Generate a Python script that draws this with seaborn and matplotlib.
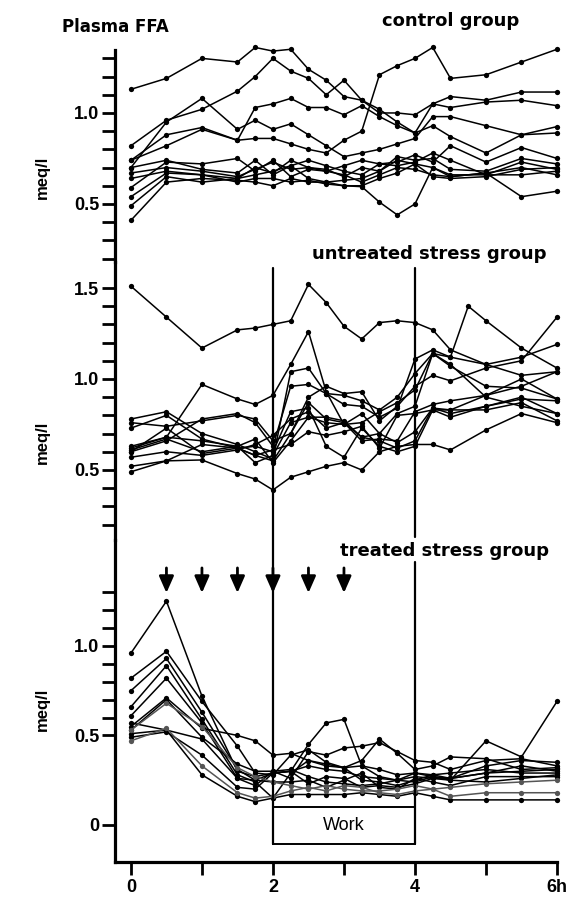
import numpy as np
import pandas as pd
import matplotlib
matplotlib.use("Agg")
import matplotlib.pyplot as plt
import seaborn as sns
from matplotlib.patches import Rectangle

# ---------------- data ----------------
times = [0, 0.5, 1, 1.5, 1.75, 2, 2.25, 2.5, 2.75, 3, 3.25, 3.5, 3.75, 4, 4.25, 4.5, 5, 5.5, 6]

control = [
    [1.13, 1.19, 1.30, 1.28, 1.36, 1.34, 1.35, 1.24, 1.18, 1.09, 1.07, 1.02, 0.95, 0.89, 1.05, 1.09, 1.07, 1.115, 1.115],
    [0.82, 0.96, 1.02, 1.12, 1.20, 1.30, 1.23, 1.19, 1.10, 1.18, 1.07, 1.00, 1.00, 0.99, 1.05, 1.03, 1.06, 1.07, 1.04],
    [0.74, 0.88, 0.92, 0.85, 0.86, 0.86, 0.83, 0.80, 0.78, 0.85, 0.90, 1.21, 1.26, 1.30, 1.36, 1.19, 1.21, 1.28, 1.35],
    [0.70, 0.95, 1.08, 0.91, 0.96, 0.91, 0.94, 0.88, 0.82, 0.76, 0.78, 0.80, 0.83, 0.86, 0.98, 0.98, 0.93, 0.88, 0.925],
    [0.74, 0.82, 0.91, 0.85, 1.03, 1.05, 1.08, 1.03, 1.03, 0.99, 1.04, 0.98, 0.93, 0.89, 0.93, 0.87, 0.78, 0.88, 0.89],
    [0.41, 0.62, 0.64, 0.63, 0.62, 0.60, 0.64, 0.62, 0.62, 0.60, 0.595, 0.51, 0.44, 0.50, 0.70, 0.65, 0.67, 0.54, 0.57],
    [0.49, 0.65, 0.62, 0.64, 0.70, 0.67, 0.74, 0.70, 0.68, 0.66, 0.62, 0.66, 0.70, 0.69, 0.66, 0.65, 0.67, 0.70, 0.66],
    [0.54, 0.67, 0.66, 0.62, 0.64, 0.64, 0.62, 0.63, 0.61, 0.60, 0.60, 0.64, 0.67, 0.72, 0.70, 0.66, 0.66, 0.66, 0.68],
    [0.59, 0.73, 0.72, 0.75, 0.68, 0.74, 0.65, 0.69, 0.68, 0.71, 0.74, 0.72, 0.71, 0.73, 0.78, 0.74, 0.66, 0.73, 0.69],
    [0.64, 0.68, 0.66, 0.64, 0.66, 0.68, 0.71, 0.64, 0.62, 0.63, 0.64, 0.68, 0.74, 0.72, 0.65, 0.64, 0.65, 0.69, 0.70],
    [0.67, 0.70, 0.68, 0.65, 0.69, 0.73, 0.69, 0.70, 0.69, 0.65, 0.70, 0.68, 0.76, 0.74, 0.75, 0.69, 0.68, 0.75, 0.72],
    [0.70, 0.74, 0.69, 0.67, 0.74, 0.66, 0.71, 0.74, 0.71, 0.68, 0.66, 0.72, 0.73, 0.77, 0.73, 0.82, 0.73, 0.81, 0.75],
]

untreated = [
    [1.51, 1.34, 1.17, 1.27, 1.28, 1.30, 1.32, 1.52, 1.42, 1.29, 1.22, 1.31, 1.32, 1.31, 1.27, 1.16, 1.08, 1.12, 1.19],
    [0.49, 0.55, 0.555, 0.48, 0.45, 0.39, 0.46, 0.49, 0.52, 0.54, 0.50, 0.60, 0.63, 0.64, 0.64, 0.61, 0.72, 0.81, 0.76],
    [0.62, 0.68, 0.97, 0.89, 0.86, 0.91, 1.08, 1.26, 0.93, 0.75, 0.76, 0.82, 0.87, 0.94, 1.14, 1.12, 1.08, 1.02, 1.04],
    [0.78, 0.82, 0.70, 0.64, 0.60, 0.56, 1.04, 1.06, 0.92, 0.91, 0.88, 0.83, 0.90, 1.03, 1.14, 1.07, 0.96, 0.95, 0.89],
    [0.60, 0.66, 0.78, 0.81, 0.76, 0.63, 0.96, 0.97, 0.92, 0.86, 0.85, 0.79, 0.84, 1.11, 1.16, 1.12, 1.32, 1.17, 1.06],
    [0.76, 0.74, 0.77, 0.80, 0.78, 0.66, 0.70, 0.90, 0.96, 0.92, 0.93, 0.77, 0.85, 0.96, 1.02, 0.99, 1.06, 1.10, 1.34],
    [0.73, 0.80, 0.67, 0.62, 0.58, 0.55, 0.70, 0.87, 0.78, 0.76, 0.68, 0.66, 0.62, 0.66, 0.84, 0.83, 0.91, 0.96, 1.04],
    [0.61, 0.67, 0.60, 0.63, 0.67, 0.54, 0.66, 0.79, 0.79, 0.77, 0.68, 0.70, 0.65, 0.71, 0.84, 0.81, 0.85, 0.90, 0.81],
    [0.57, 0.60, 0.58, 0.61, 0.64, 0.69, 0.78, 0.82, 0.73, 0.76, 0.66, 0.67, 0.66, 0.82, 0.86, 0.88, 0.91, 1.00, 0.89],
    [0.52, 0.55, 0.64, 0.62, 0.63, 0.60, 0.82, 0.84, 0.63, 0.57, 0.73, 0.63, 0.60, 0.63, 0.83, 0.83, 0.83, 0.87, 0.77],
    [0.63, 0.68, 0.66, 0.63, 0.54, 0.58, 0.76, 0.79, 0.76, 0.75, 0.81, 0.70, 0.81, 0.85, 1.14, 1.08, 0.90, 0.85, 0.81],
    [0.60, 0.73, 0.59, 0.62, 0.58, 0.61, 0.64, 0.71, 0.69, 0.71, 0.74, 0.62, 0.80, 0.81, 0.83, 0.79, 0.85, 0.89, 0.88],
]
# one extra sample taken at 4.75 h in the untreated group
untreated_extra_subject = 4
untreated_extra_time = 4.75
untreated_extra_value = 1.40

treated = [
    [0.96, 1.25, 0.72, 0.30, 0.27, 0.29, 0.30, 0.33, 0.31, 0.30, 0.27, 0.26, 0.25, 0.24, 0.27, 0.26, 0.29, 0.30, 0.31],
    [0.82, 0.97, 0.69, 0.44, 0.29, 0.28, 0.39, 0.42, 0.35, 0.32, 0.33, 0.31, 0.28, 0.29, 0.28, 0.26, 0.33, 0.36, 0.35],
    [0.75, 0.93, 0.63, 0.31, 0.25, 0.29, 0.30, 0.45, 0.57, 0.59, 0.33, 0.27, 0.25, 0.29, 0.27, 0.25, 0.47, 0.38, 0.69],
    [0.66, 0.89, 0.59, 0.28, 0.24, 0.15, 0.29, 0.36, 0.33, 0.32, 0.36, 0.48, 0.40, 0.31, 0.33, 0.38, 0.37, 0.31, 0.32],
    [0.61, 0.82, 0.57, 0.26, 0.22, 0.30, 0.26, 0.41, 0.39, 0.43, 0.44, 0.46, 0.41, 0.36, 0.35, 0.31, 0.36, 0.37, 0.33],
    [0.55, 0.71, 0.54, 0.50, 0.47, 0.39, 0.40, 0.36, 0.34, 0.32, 0.25, 0.24, 0.22, 0.25, 0.28, 0.29, 0.31, 0.29, 0.29],
    [0.53, 0.70, 0.49, 0.34, 0.30, 0.30, 0.31, 0.27, 0.24, 0.23, 0.22, 0.23, 0.25, 0.27, 0.26, 0.26, 0.29, 0.33, 0.30],
    [0.57, 0.53, 0.48, 0.26, 0.25, 0.24, 0.24, 0.25, 0.21, 0.25, 0.29, 0.21, 0.20, 0.26, 0.24, 0.22, 0.27, 0.27, 0.27],
    [0.49, 0.52, 0.39, 0.21, 0.20, 0.29, 0.30, 0.23, 0.27, 0.26, 0.21, 0.22, 0.21, 0.23, 0.26, 0.25, 0.24, 0.26, 0.28],
    [0.47, 0.54, 0.33, 0.18, 0.15, 0.16, 0.19, 0.21, 0.19, 0.22, 0.21, 0.18, 0.17, 0.19, 0.20, 0.21, 0.23, 0.24, 0.25],
    [0.51, 0.53, 0.28, 0.16, 0.13, 0.15, 0.17, 0.17, 0.17, 0.17, 0.18, 0.17, 0.16, 0.18, 0.16, 0.14, 0.14, 0.14, 0.14],
    [0.53, 0.68, 0.55, 0.32, 0.27, 0.24, 0.22, 0.20, 0.22, 0.20, 0.19, 0.19, 0.20, 0.22, 0.20, 0.16, 0.18, 0.18, 0.18],
]
treated_gray_subjects = [9, 11]

arrow_times = [0.5, 1, 1.5, 2, 2.5, 3]
work_start, work_end = 2, 4
group_titles = ["control group", "untreated stress group", "treated stress group"]
x_ticks = [0, 1, 2, 3, 4, 5, 6]
x_tick_labels = ["0", "", "2", "", "4", "", "6h"]
control_yticks = [0.2, 0.3, 0.4, 0.5, 0.6, 0.7, 0.8, 0.9, 1.0, 1.1, 1.2, 1.3]
untreated_yticks = [0.2, 0.3, 0.4, 0.5, 0.6, 0.7, 0.8, 0.9, 1.0, 1.1, 1.2, 1.3, 1.4, 1.5]
treated_yticks = [0, 0.5, 0.6, 0.7, 0.8, 0.9, 1.0, 1.1, 1.2, 1.3]
labelled_ticks = {0: "0", 0.5: "0.5", 1.0: "1.0", 1.5: "1.5"}


def to_long(rows):
    recs = []
    for s, row in enumerate(rows):
        for t, v in zip(times, row):
            recs.append({"subject": s, "time": t, "value": v})
    return pd.DataFrame(recs)


df_c = to_long(control)
df_u = to_long(untreated)
df_u = pd.concat([df_u, pd.DataFrame([{"subject": untreated_extra_subject,
                                       "time": untreated_extra_time,
                                       "value": untreated_extra_value}])],
                 ignore_index=True).sort_values(["subject", "time"])
df_t = to_long(treated)

# ---------------- style ----------------
sns.set_style("white")
plt.rcParams["font.family"] = ["Liberation Sans", "DejaVu Sans"]
plt.rcParams["text.color"] = "black"
plt.rcParams["xtick.color"] = "black"
plt.rcParams["ytick.color"] = "black"
plt.rcParams["axes.labelcolor"] = "black"

W, H = 571, 900
fig = plt.figure(figsize=(W / 100, H / 100), dpi=100)
fig.patch.set_facecolor("white")


def fx(px):
    return px / W


def fy(py):
    return 1 - py / H


left_px, right_px = 115, 557
XLIM = (-0.2244, 6.0)

ax_c = fig.add_axes([fx(left_px), fy(262), (right_px - left_px) / W, (262 - 50) / H])
ax_u = fig.add_axes([fx(left_px), fy(540), (right_px - left_px) / W, (540 - 262) / H])
ax_t = fig.add_axes([fx(left_px), fy(862), (right_px - left_px) / W, (862 - 540) / H])

ylims = [(0.181, 1.346), (0.115, 1.643), (-0.207, 1.592)]
yticks = [control_yticks, untreated_yticks, treated_yticks]

line_kw = dict(x="time", y="value", units="subject", estimator=None, sort=True,
               linewidth=1.1, marker="o", markersize=3.8, markeredgewidth=0,
               legend=False)

sns.lineplot(data=df_c, ax=ax_c, color="black", **line_kw)
sns.lineplot(data=df_u, ax=ax_u, color="black", **line_kw)
sns.lineplot(data=df_t[~df_t.subject.isin(treated_gray_subjects)], ax=ax_t, color="black", **line_kw)
sns.lineplot(data=df_t[df_t.subject.isin(treated_gray_subjects)], ax=ax_t, color="#555555", **line_kw)

for ax, yl, yt in zip([ax_c, ax_u, ax_t], ylims, yticks):
    ax.set_xlim(*XLIM)
    ax.set_ylim(*yl)
    ax.set_facecolor("none")
    for line in ax.lines:
        line.set_clip_on(False)
    for sp in ["top", "right", "bottom"]:
        ax.spines[sp].set_visible(False)
    ax.spines["left"].set_linewidth(2.3)
    ax.spines["left"].set_color("black")
    ax.set_yticks(yt)
    ax.set_yticklabels([labelled_ticks.get(round(v, 2), "") for v in yt],
                       fontsize=13, fontweight="bold", color="black")
    ax.tick_params(axis="y", which="major", left=True, direction="out",
                   length=9.5, width=2.0, pad=2, color="black", labelcolor="black")
    ax.set_xlabel("")
    ax.set_ylabel("")

for ax in [ax_c, ax_u]:
    ax.set_xticks([])

ax_t.spines["bottom"].set_visible(True)
ax_t.spines["bottom"].set_linewidth(2.3)
ax_t.spines["bottom"].set_color("black")
ax_t.set_xticks(x_ticks)
ax_t.set_xticklabels(x_tick_labels, fontsize=13, fontweight="bold", color="black")
ax_t.tick_params(axis="x", which="major", bottom=True, direction="out", length=9,
                 width=2.0, pad=3, color="black", labelcolor="black")

# work period lines
def frac(ax, v):
    lo, hi = ax.get_ylim()
    return (v - lo) / (hi - lo)

ax_u.axvline(work_start, ymin=0, ymax=frac(ax_u, 1.61), color="black", lw=1.6)
ax_u.axvline(work_end, ymin=frac(ax_u, 0.132), ymax=frac(ax_u, 1.61), color="black", lw=1.6)
ax_t.axvline(work_start, ymin=frac(ax_t, -0.106), ymax=1, color="black", lw=1.6)
ax_t.axvline(work_end, ymin=frac(ax_t, -0.106), ymax=frac(ax_t, 1.469), color="black", lw=1.6)

ax_t.add_patch(Rectangle((work_start, -0.106), work_end - work_start, 0.206,
                         fill=False, edgecolor="black", lw=1.4, clip_on=False))
ax_t.text((work_start + work_end) / 2, -0.005, "Work", ha="center", va="center",
          fontsize=13, color="black")

# injection arrows
for t in arrow_times:
    ax_t.annotate("", xy=(t, 1.296), xytext=(t, 1.436),
                  arrowprops=dict(arrowstyle="-|>,head_length=0.5,head_width=0.22",
                                  mutation_scale=20, lw=2.0, color="black",
                                  shrinkA=0, shrinkB=0), annotation_clip=False)

# titles
fig.text(fx(62), fy(32), "Plasma FFA", fontsize=12, fontweight="bold",
         family="DejaVu Sans", va="baseline", ha="left", color="black")
fig.text(fx(382), fy(26), group_titles[0], fontsize=13, fontweight="bold",
         family="DejaVu Sans", va="baseline", ha="left", color="black")
fig.text(fx(312), fy(259), group_titles[1], fontsize=13, fontweight="bold",
         family="DejaVu Sans", va="baseline", ha="left", color="black")
fig.text(fx(340), fy(556), group_titles[2], fontsize=13, fontweight="bold",
         family="DejaVu Sans", va="baseline", ha="left", color="black")

for ycen in [177, 442, 709]:
    fig.text(fx(42), fy(ycen), "meq/l", rotation=90, fontsize=12, fontweight="bold",
             ha="center", va="center", color="black")

fig.savefig("out.png", dpi=100, facecolor="white")
